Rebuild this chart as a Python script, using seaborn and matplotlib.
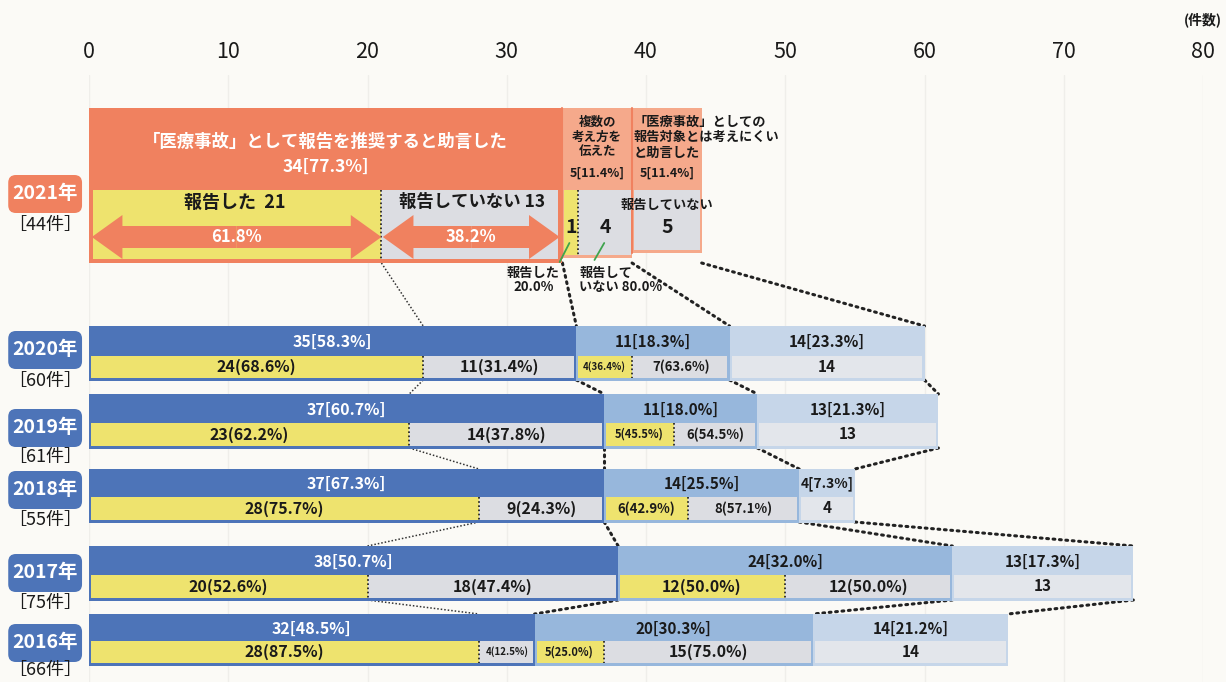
import matplotlib
matplotlib.use('Agg')
import matplotlib.pyplot as plt
import matplotlib.patches as mpatches
import seaborn as sns

# values (row order: top to bottom)
years = ['2021年', '2020年', '2019年', '2018年', '2017年', '2016年']
totals = [44, 60, 61, 55, 75, 66]
recommend = [34, 35, 37, 37, 38, 32]
recommend_pct = [77.3, 58.3, 60.7, 67.3, 50.7, 48.5]
rec_reported = [21, 24, 23, 28, 20, 28]
rec_reported_pct = [61.8, 68.6, 62.2, 75.7, 52.6, 87.5]
rec_not_pct = [38.2, 31.4, 37.8, 24.3, 47.4, 12.5]
other_view = [5, 11, 11, 14, 24, 20]
other_pct = [11.4, 18.3, 18.0, 25.5, 32.0, 30.3]
oth_reported = [1, 4, 5, 6, 12, 5]
oth_reported_pct = [20.0, 36.4, 45.5, 42.9, 50.0, 25.0]
oth_not_pct = [80.0, 63.6, 54.5, 57.1, 50.0, 75.0]
not_target = [5, 14, 13, 4, 13, 14]
not_target_pct = [11.4, 23.3, 21.3, 7.3, 17.3, 21.2]
xticks = [0, 10, 20, 30, 40, 50, 60, 70, 80]

# layout (pixel rows)
row_top = [108, 326, 394, 469, 546, 614]
row_bot = [263, 381, 449, 523, 601, 666]
inner_top = [190, 356, 423, 497, 575, 641]
label_y = [194, 350, 428, 490, 573, 643]
count_y = [225, 381, 457, 520, 603, 670]

ORANGE = '#F0815F'
ORANGE_L = '#F5A98B'
BLUE = '#4D74B8'
BLUE_M = '#97B7DC'
BLUE_L = '#C6D6E9'
YELLOW = '#EEE36E'
GRAY = '#DCDDE2'
GRAY_L = '#E3E6EB'
BG = '#FBFAF6'
INK = '#1A1A1A'

sns.set_theme(style='white')
plt.rcParams['font.family'] = ['Noto Sans CJK JP', 'DejaVu Sans']

fig = plt.figure(figsize=(12.26, 6.82), dpi=100, facecolor=BG)
X0, X80, YAX = 89, 1203, 75
ax = fig.add_axes([X0 / 1226, 0, (X80 - X0) / 1226, (682 - YAX) / 682])
ax.set_facecolor(BG)
ax.set_xlim(0, 80)
ax.set_ylim(682, YAX)
PX = (X80 - X0) / 80

ax.xaxis.tick_top()
ax.set_xticks(xticks)
ax.set_yticks([])
ax.tick_params(axis='x', length=0, pad=9, labelsize=15.5, labelcolor=INK)
ax.grid(axis='x', color='#EFEEEA', lw=1)
ax.set_axisbelow(True)
for s in ax.spines.values():
    s.set_visible(False)
ax.text(80, 20, '(件数)', ha='center', va='center', fontsize=10, fontweight='bold', color=INK)


def seg(left, width, top, bottom, color, z=2):
    ax.barh((top + bottom) / 2, width, height=bottom - top, left=left,
            color=color, edgecolor='none', zorder=z)


def vdots(x, top, bottom):
    ax.plot([x, x], [top, bottom], color=INK, lw=1.2, ls=(0, (1, 1.5)), zorder=4)


def fsize(w):
    px = w * PX
    if px >= 120:
        return 11.5
    if px >= 80:
        return 9.5
    if px >= 62:
        return 8
    return 7


# ---- year labels
for i, y in enumerate(years):
    fc = ORANGE if i == 0 else BLUE
    box = mpatches.FancyBboxPatch((-5.8, label_y[i] - 19), 5.3, 38,
                                  boxstyle='round,pad=0,rounding_size=0.55',
                                  mutation_aspect=PX, fc=fc, ec='none', clip_on=False, zorder=3)
    ax.add_patch(box)
    ax.text(-3.15, label_y[i], y, ha='center', va='center', color='white',
            fontsize=14, fontweight='bold', zorder=4)
    ax.text(-3.15, count_y[i], f'［{totals[i]}件］', ha='center', va='center',
            color=INK, fontsize=13, zorder=4)

# ---- 2021 row (orange)
r = 0
t, b, it = row_top[r], row_bot[r], inner_top[r]
g1 = recommend[r]
g2 = g1 + other_view[r]
g3 = g2 + not_target[r]
seg(0, g1, t, b, ORANGE)
seg(g1, other_view[r], t, b - 5, ORANGE_L)
seg(g2, not_target[r], t, b - 10, ORANGE_L)
ax.plot([g1, g1], [t, b - 5], color=ORANGE, lw=1.5, zorder=3)
ax.plot([g2, g2], [t, b - 10], color=ORANGE, lw=1.5, zorder=3)
seg(0.3, rec_reported[r] - 0.3, it, b - 4, YELLOW, z=3)
seg(rec_reported[r], g1 - rec_reported[r] - 0.3, it, b - 4, GRAY, z=3)
vdots(rec_reported[r], it, b - 4)
seg(g1 + 0.1, oth_reported[r], it, b - 8, YELLOW, z=3)
seg(g1 + 0.1 + oth_reported[r], other_view[r] - oth_reported[r] - 0.2, it, b - 8, GRAY, z=3)
vdots(g1 + 0.1 + oth_reported[r], it, b - 8)
seg(g2 + 0.15, not_target[r] - 0.3, it, b - 13, GRAY, z=3)

ax.text(g1 / 2, 142, '「医療事故」として報告を推奨すると助言した', ha='center', va='center',
        color='white', fontsize=12.5, fontweight='bold', zorder=5)
ax.text(g1 / 2, 167, f'{recommend[r]}[{recommend_pct[r]}%]', ha='center', va='center',
        color='white', fontsize=12.5, fontweight='bold', zorder=5)
ax.text(rec_reported[r] / 2, 202, f'報告した  {rec_reported[r]}', ha='center', va='center',
        color=INK, fontsize=13, fontweight='bold', zorder=5)
ax.text((rec_reported[r] + g1) / 2, 202, f'報告していない {g1 - rec_reported[r]}',
        ha='center', va='center', color=INK, fontsize=12.5, fontweight='bold', zorder=5)

# double-headed arrows
ay = 237
for x_a, x_b, pct in [(0.2, rec_reported[r], rec_reported_pct[r]),
                      (rec_reported[r] + 0.1, g1 - 0.2, rec_not_pct[r])]:
    mid = (x_a + x_b) / 2
    for end in (x_a, x_b):
        ax.add_patch(mpatches.FancyArrow(mid, ay, end - mid, 0, width=22, head_width=44,
                                         head_length=2.2, length_includes_head=True,
                                         fc=ORANGE, ec='none', zorder=4))
    ax.text(mid, ay, f'{pct}%', ha='center', va='center', color='white',
            fontsize=12, fontweight='bold', zorder=5)

ax.text(g1 + other_view[r] / 2, 137, '複数の\n考え方を\n伝えた', ha='center', va='center',
        color=INK, fontsize=9, fontweight='bold', linespacing=1.15, zorder=5)
ax.text(g1 + other_view[r] / 2, 173, f'{other_view[r]}[{other_pct[r]}%]', ha='center',
        va='center', color=INK, fontsize=9, fontweight='bold', zorder=5)
ax.text(g2 + 0.1, 137, '「医療事故」としての\n報告対象とは考えにくい\nと助言した', ha='left',
        va='center', color=INK, fontsize=9.5, fontweight='bold', linespacing=1.15, zorder=5)
ax.text(g2 + not_target[r] / 2, 173, f'{not_target[r]}[{not_target_pct[r]}%]', ha='center',
        va='center', color=INK, fontsize=9, fontweight='bold', zorder=5)
ax.text(g1 + 0.1 + oth_reported[r] / 2, 228, f'{oth_reported[r]}', ha='center', va='center',
        color=INK, fontsize=14, fontweight='bold', zorder=5)
ax.text(g1 + 0.1 + oth_reported[r] + (other_view[r] - oth_reported[r]) / 2, 228,
        f'{other_view[r] - oth_reported[r]}', ha='center', va='center',
        color=INK, fontsize=14, fontweight='bold', zorder=5)
ax.text(g2 + not_target[r] / 2, 205, '報告していない', ha='center', va='center',
        color=INK, fontsize=9.5, fontweight='bold', zorder=5)
ax.text(g2 + not_target[r] / 2, 228, f'{not_target[r]}', ha='center', va='center',
        color=INK, fontsize=14, fontweight='bold', zorder=5)

# callouts under the small group
ax.plot([34.5, 33.8], [243, 262], color='#3FA34D', lw=1.3, zorder=6)
ax.plot([37.0, 36.3], [243, 260], color='#3FA34D', lw=1.3, zorder=6)
ax.text(31.9, 280, f'報告した\n{oth_reported_pct[r]}%', ha='center', va='center', color=INK,
        fontsize=9.5, fontweight='bold', linespacing=1.05, zorder=5)
ax.text(35.2, 280, f'報告して\nいない {oth_not_pct[r]}%', ha='left', va='center', color=INK,
        fontsize=9.5, fontweight='bold', linespacing=1.05, zorder=5)

# ---- 2016-2020 rows (blue)
for r in range(1, len(years)):
    t, b, it = row_top[r], row_bot[r], inner_top[r]
    g1 = recommend[r]
    g2 = g1 + other_view[r]
    g3 = g2 + not_target[r]
    seg(0, g1, t, b, BLUE)
    seg(g1, other_view[r], t, b, BLUE_M)
    seg(g2, not_target[r], t, b, BLUE_L)
    # inner split: reported / not reported
    seg(0.15, rec_reported[r] - 0.15, it, b - 3, YELLOW, z=3)
    seg(rec_reported[r], g1 - rec_reported[r] - 0.15, it, b - 3, GRAY, z=3)
    vdots(rec_reported[r], it, b - 3)
    seg(g1 + 0.15, oth_reported[r] - 0.15, it, b - 3, YELLOW, z=3)
    seg(g1 + oth_reported[r], other_view[r] - oth_reported[r] - 0.15, it, b - 3, GRAY, z=3)
    vdots(g1 + oth_reported[r], it, b - 3)
    seg(g2 + 0.15, not_target[r] - 0.3, it, b - 3, GRAY_L, z=3)

    oy = (t + it) / 2 + 1
    iy = (it + b - 3) / 2
    ax.text(g1 / 2, oy, f'{recommend[r]}[{recommend_pct[r]}%]', ha='center', va='center',
            color='white', fontsize=11.5, fontweight='bold', zorder=5)
    ax.text(g1 + other_view[r] / 2, oy, f'{other_view[r]}[{other_pct[r]}%]', ha='center',
            va='center', color=INK, fontsize=11, fontweight='bold', zorder=5)
    ax.text(g2 + not_target[r] / 2, oy, f'{not_target[r]}[{not_target_pct[r]}%]', ha='center',
            va='center', color=INK, fontsize=11 if not_target[r] * PX > 100 else 10,
            fontweight='bold', zorder=5)
    rn = g1 - rec_reported[r]
    on = other_view[r] - oth_reported[r]
    for x_c, w, txt in [(rec_reported[r] / 2, rec_reported[r], f'{rec_reported[r]}({rec_reported_pct[r]}%)'),
                        (rec_reported[r] + rn / 2, rn, f'{rn}({rec_not_pct[r]}%)'),
                        (g1 + oth_reported[r] / 2, oth_reported[r], f'{oth_reported[r]}({oth_reported_pct[r]}%)'),
                        (g1 + oth_reported[r] + on / 2, on, f'{on}({oth_not_pct[r]}%)')]:
        ax.text(x_c, iy, txt, ha='center', va='center', color=INK,
                fontsize=fsize(w), fontweight='bold', zorder=5)
    ax.text(g2 + not_target[r] / 2, iy, f'{not_target[r]}', ha='center', va='center',
            color=INK, fontsize=11, fontweight='bold', zorder=5)

# ---- dotted connectors between consecutive years
for r in range(len(years) - 1):
    b = row_bot[r] - (1 if r else 0)
    t = row_top[r + 1]
    ax.plot([rec_reported[r], rec_reported[r + 1]], [b, t], color='#333333', lw=1.1,
            ls=(0, (1, 1.3)), zorder=1)
    ends_a = [recommend[r], recommend[r] + other_view[r], totals[r]]
    ends_b = [recommend[r + 1], recommend[r + 1] + other_view[r + 1], totals[r + 1]]
    for xa, xb in zip(ends_a, ends_b):
        ax.plot([xa, xb], [b, t], color='#222222', lw=2.2, ls=(0, (0.6, 1.5)),
                dash_capstyle='round', zorder=1)

fig.savefig('out.png', dpi=100, facecolor=BG)
